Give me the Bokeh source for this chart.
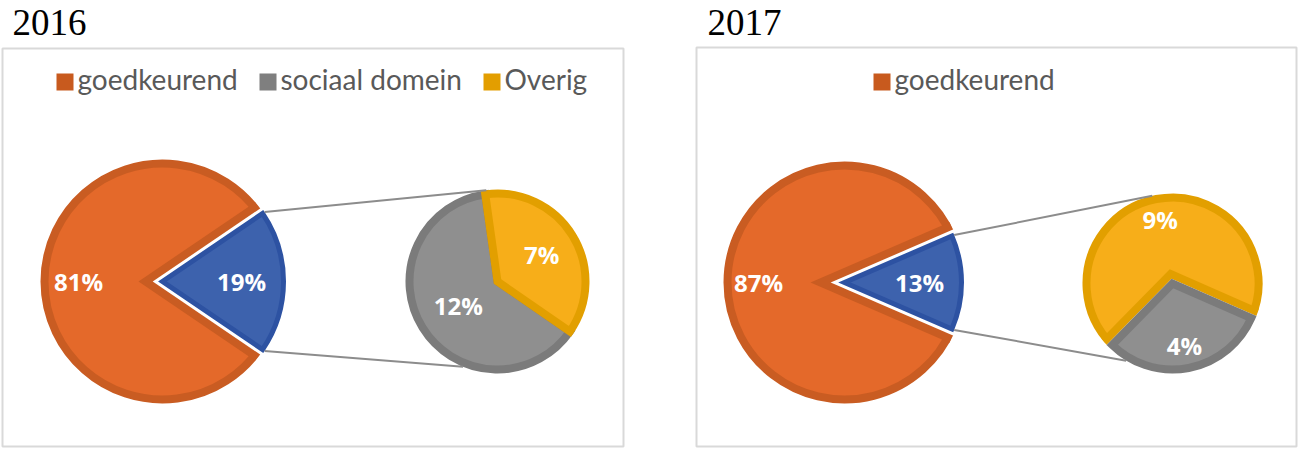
import math
from bokeh.plotting import figure
from bokeh.models import Range1d
from bokeh.core.properties import value
from bokeh.embed import file_html
from bokeh.resources import INLINE

# ---------------- data ----------------
years = ["2016", "2017"]
goedkeurend = [81, 87]          # % goedkeurend (main pie)
sociaal_domein = [12, 4]        # % sociaal domein (split-off pie)
overig = [7, 9]                 # % overig (split-off pie)
legend_labels = [["goedkeurend", "sociaal domein", "Overig"], ["goedkeurend"]]

# ---------------- style ----------------
ORANGE, ORANGE_DARK, ORANGE_KEY = "#E4692A", "#C95C22", "#C85A1E"
BLUE, BLUE_DARK = "#3D62AD", "#2D52A2"
GRAY, GRAY_DARK, GRAY_KEY = "#8F8F8F", "#7B7B7B", "#7F7F7F"
YELLOW, YELLOW_DARK, YELLOW_KEY = "#F7AE19", "#E29F00", "#E39E00"
key_colors = {"goedkeurend": ORANGE_KEY, "sociaal domein": GRAY_KEY, "Overig": YELLOW_KEY}
TEXT_GRAY = "#595959"
LINE_GRAY = "#8C8C8C"
BOX_GRAY = "#D9D9D9"

W, H = 1299, 451


def Y(ry):
    # reference pixel row -> data y (y axis points up)
    return H - ry


# layout per panel (reference pixel positions)
box = [(2, 48, 623, 446), (696, 47, 1296, 446)]
title_pos = [(12, 22), (707, 22)]
main_c = [(162, 281), (844, 282)]
main_R = [118, 117]
main_w = 8
blue_R = [121, 117]
blue_w = 5
sec_c = [(497, 281), (1172, 283)]
sec_R = [88, 86]
sec_w = 8
gray_start = [98, 225.5]
sec_notch = [False, True]
conn_ang = [(97, 248), (103, 239)]
key_x = [[56, 259, 483], [873]]
key_y = 81.5
key_size = 17
key_baseline = 78
lab_r_main = [(84, 79), (86, 75)]
lab_r_sec = [(46, 52), (63, 65)]   # (gray, yellow)

p = figure(width=W, height=H, x_range=Range1d(0, W), y_range=Range1d(0, H),
           output_backend="svg", toolbar_location=None, x_axis_location=None,
           y_axis_location=None, min_border=0, background_fill_color="white",
           border_fill_color="white")
p.grid.visible = False
p.outline_line_color = None


def wedge(x, y, r, a0, a1, fill, line=None, lw=0):
    p.wedge(x=[x], y=[y], radius=r, start_angle=math.radians(a0), end_angle=math.radians(a1),
            direction="anticlock", fill_color=fill, line_color=line, line_width=lw,
            line_join="miter")


def notch(cx, cy, R, w, theta, alpha, small_w, gap, dark):
    """Cut the wedge-shaped notch into the big slice, with a dark rim along the cut."""
    ux, uy = math.cos(math.radians(theta)), math.sin(math.radians(theta))
    s, c = math.sin(math.radians(alpha)), math.cos(math.radians(alpha))
    d_white = (gap + small_w / 2) / s
    d_dark = d_white + w / s
    Ro = R + w / 2
    t = d_dark * c + math.sqrt(max(Ro ** 2 - (d_dark * s) ** 2, 0))
    wedge(cx - d_dark * ux, cy - d_dark * uy, t, theta - alpha, theta + alpha, dark)
    wedge(cx - d_white * ux, cy - d_white * uy, Ro + d_white + 6, theta - alpha, theta + alpha, "white")


for i in range(2):
    # box and title
    l, t, r, b = box[i]
    p.quad(left=[l], right=[r], top=[Y(t)], bottom=[Y(b)], fill_color=None,
           line_color=BOX_GRAY, line_width=2)
    p.text(x=[title_pos[i][0]], y=[Y(title_pos[i][1])], text=[years[i]],
           text_font=value("Liberation Serif"), text_font_size="37px", text_color="black",
           text_baseline="alphabetic", text_align="left")

    # legend
    for lab, kx in zip(legend_labels[i], key_x[i]):
        p.rect(x=[kx + key_size / 2], y=[Y(key_y)], width=key_size, height=key_size,
               fill_color=key_colors[lab], line_color=None)
        p.text(x=[kx + key_size + 4], y=[Y(key_baseline)], text=[lab],
               text_font=value("Lato"), text_font_size="28px", text_color=TEXT_GRAY,
               text_baseline="alphabetic", text_align="left")

    # main pie
    rest = sociaal_domein[i] + overig[i]
    a_half = rest / 100 * 360 / 2
    cx, cy = main_c[i][0], Y(main_c[i][1])
    R = main_R[i]
    wedge(cx, cy, R, a_half, 360 - a_half, ORANGE, ORANGE_DARK, main_w)
    notch(cx, cy, R, main_w, 0, a_half, blue_w, 3, ORANGE_DARK)
    wedge(cx, cy, blue_R[i], -a_half, a_half, BLUE, BLUE_DARK, blue_w)

    # split-off pie
    sx, sy = sec_c[i][0], Y(sec_c[i][1])
    SR = sec_R[i]
    g_ang = sociaal_domein[i] / rest * 360
    g0, g1 = gray_start[i], gray_start[i] + g_ang
    if not sec_notch[i]:
        wedge(sx, sy, SR, g0, g1, GRAY, GRAY_DARK, sec_w)
        wedge(sx, sy, SR, g1, g0 + 360, YELLOW, YELLOW_DARK, sec_w)
    else:
        wedge(sx, sy, SR, g1, g0 + 360, YELLOW, YELLOW_DARK, sec_w)
        notch(sx, sy, SR, sec_w, (g0 + g1) / 2, g_ang / 2, sec_w, 0, YELLOW_DARK)
        wedge(sx, sy, SR, g0, g1, GRAY, GRAY_DARK, sec_w)

    # connector lines
    rb = blue_R[i] + blue_w / 2
    ro = SR + sec_w / 2
    a_up, a_dn = conn_ang[i]
    x0 = [cx + rb * math.cos(math.radians(a_half)), cx + rb * math.cos(math.radians(-a_half))]
    y0 = [cy + rb * math.sin(math.radians(a_half)), cy + rb * math.sin(math.radians(-a_half))]
    x1 = [sx + ro * math.cos(math.radians(a_up)), sx + ro * math.cos(math.radians(a_dn))]
    y1 = [sy + ro * math.sin(math.radians(a_up)), sy + ro * math.sin(math.radians(a_dn))]
    p.segment(x0=x0, y0=y0, x1=x1, y1=y1, line_color=LINE_GRAY, line_width=2)

    # data labels
    y_mid = (g1 + g0 + 360) / 2
    g_mid = (g0 + g1) / 2
    lx = [cx - lab_r_main[i][0], cx + lab_r_main[i][1],
          sx + lab_r_sec[i][0] * math.cos(math.radians(g_mid)),
          sx + lab_r_sec[i][1] * math.cos(math.radians(y_mid))]
    ly = [cy, cy,
          sy + lab_r_sec[i][0] * math.sin(math.radians(g_mid)),
          sy + lab_r_sec[i][1] * math.sin(math.radians(y_mid))]
    lt = [f"{goedkeurend[i]}%", f"{rest}%", f"{sociaal_domein[i]}%", f"{overig[i]}%"]
    p.text(x=lx, y=ly, text=lt, text_font=value("Open Sans"), text_font_style="bold",
           text_font_size="24px", text_color="white", text_align="center",
           text_baseline="middle")

open("out.html", "w").write(file_html(p, INLINE))
